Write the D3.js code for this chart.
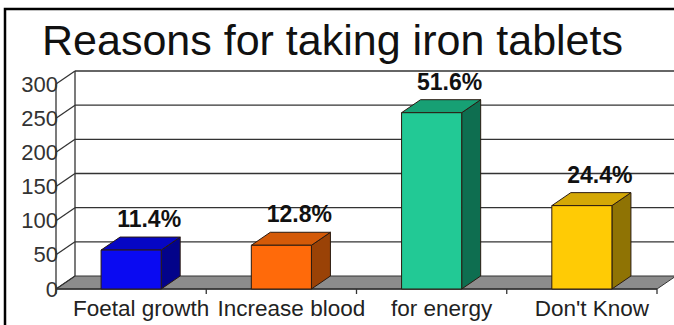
<!DOCTYPE html>
<html>
<head>
<meta charset="utf-8">
<script src="https://cdn.jsdelivr.net/npm/d3@7"></script>
<style>
  html, body { margin: 0; padding: 0; background: #fff; }
  svg { display: block; }
  text { font-family: "Liberation Sans", Arial, sans-serif; }
</style>
</head>
<body>
<svg id="chart" width="674" height="325"></svg>
<script>
const title = "Reasons for taking iron tablets";
const categories = ["Foetal growth", "Increase blood", "for energy", "Don't Know"];
const counts = [57, 64, 258, 122];
const percentLabels = ["11.4%", "12.8%", "51.6%", "24.4%"];
const yTicks = [0, 50, 100, 150, 200, 250, 300];
const frontColors = ["#0a0af2", "#ff6a0a", "#22c995", "#ffcb05"];
const topColors = ["#0606c4", "#d45a08", "#17a074", "#d4a806"];
const sideColors = ["#03038a", "#9a4206", "#0e6e50", "#8f7304"];

const svg = d3.select("#chart");
const dx = 19, dy = -13;
const x0 = 56, x1 = 657;

const y = d3.scaleLinear().domain([0, 300]).range([289, 84]);
const x = d3.scaleBand().domain(categories).range([x0, x1]).paddingInner(0.6).paddingOuter(0.3);
const step = x.step();

// frame
svg.append("rect").attr("x", 5).attr("y", 9).attr("width", 720).attr("height", 400)
  .attr("fill", "#fff").attr("stroke", "#000").attr("stroke-width", 2.5);

// title
svg.append("text").attr("x", 42).attr("y", 55).attr("font-size", 42)
  .attr("textLength", 581).attr("lengthAdjust", "spacingAndGlyphs")
  .attr("fill", "#111").text(title);

// floor
const floorPts = [[x0, y(0)], [x1, y(0)], [x1 + dx, y(0) + dy], [x0 + dx, y(0) + dy]];
svg.append("polygon").attr("points", floorPts.map(p => p.join(",")).join(" "))
  .attr("fill", "#8c8c8c").attr("stroke", "#333").attr("stroke-width", 1);

// back wall gridlines
const grid = svg.append("g").attr("stroke", "#333").attr("stroke-width", 1.3).attr("fill", "none");
yTicks.filter(t => t > 0).forEach(t => {
  grid.append("line").attr("x1", x0 + dx).attr("x2", 700)
    .attr("y1", y(t) + dy).attr("y2", y(t) + dy);
});
// side wall diagonals
yTicks.forEach(t => {
  grid.append("line").attr("x1", x0).attr("y1", y(t)).attr("x2", x0 + dx).attr("y2", y(t) + dy);
});
// back wall left edge & front axis
grid.append("line").attr("x1", x0 + dx).attr("x2", x0 + dx).attr("y1", y(0) + dy).attr("y2", y(300) + dy);
grid.append("line").attr("x1", x0).attr("x2", x0).attr("y1", y(0)).attr("y2", y(300));
grid.append("line").attr("x1", x0).attr("x2", x1).attr("y1", y(0)).attr("y2", y(0));
// category ticks on front edge
d3.range(categories.length + 1).forEach(i => {
  const xx = x0 + i * step;
  grid.append("line").attr("x1", xx).attr("x2", xx).attr("y1", y(0)).attr("y2", y(0) + 5);
});

// bars
const bars = svg.append("g");
categories.forEach((c, i) => {
  const bx = x(c), bw = x.bandwidth();
  const top = y(counts[i]), bot = y(0);
  const g = bars.append("g").attr("stroke", "#2a1a10").attr("stroke-width", 1).attr("stroke-linejoin", "round");
  g.append("polygon")
    .attr("points", [[bx + bw, bot], [bx + bw + dx, bot + dy], [bx + bw + dx, top + dy], [bx + bw, top]].map(p => p.join(",")).join(" "))
    .attr("fill", sideColors[i]);
  g.append("polygon")
    .attr("points", [[bx, top], [bx + bw, top], [bx + bw + dx, top + dy], [bx + dx, top + dy]].map(p => p.join(",")).join(" "))
    .attr("fill", topColors[i]);
  g.append("rect").attr("x", bx).attr("y", top).attr("width", bw).attr("height", bot - top)
    .attr("fill", frontColors[i]);
  svg.append("text")
    .attr("x", bx + bw / 2 + dx - 1).attr("y", top + dy - 10)
    .attr("text-anchor", "middle").attr("font-size", 23).attr("font-weight", "bold")
    .attr("fill", "#111").text(percentLabels[i]);
});

// y axis labels
const yAxis = d3.axisLeft(y).tickValues(yTicks).tickSize(0).tickPadding(0).tickFormat(d3.format("d"));
const ya = svg.append("g").attr("transform", `translate(${x0 + 2},0)`).call(yAxis);
ya.select(".domain").remove();
ya.selectAll("text").attr("font-size", 22).attr("fill", "#333")
  .attr("font-family", "'Liberation Sans', Arial, sans-serif");

// x axis labels
const xAxis = d3.axisBottom(x).tickSize(0).tickPadding(0);
const xa = svg.append("g").attr("transform", `translate(10,${y(0) + 11})`).call(xAxis);
xa.select(".domain").remove();
xa.selectAll("text").attr("font-size", 22.5).attr("fill", "#222")
  .attr("font-family", "'Liberation Sans', Arial, sans-serif");
</script>
</body>
</html>
